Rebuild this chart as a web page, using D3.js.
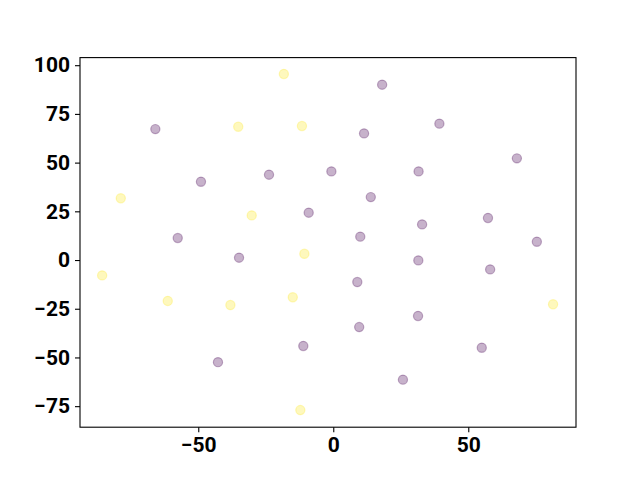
<!DOCTYPE html>
<html>
<head>
<meta charset="utf-8">
<script src="https://cdn.jsdelivr.net/npm/d3@7"></script>
<style>
  html, body { margin: 0; padding: 0; background: #fff; }
  svg { display: block; }
  .tick text { font-family: Roboto, "Liberation Sans", sans-serif; font-weight: bold; font-size: 21px; fill: #000; }
</style>
</head>
<body>
<svg id="chart" width="640" height="480"></svg>
<script>
// Class 0 (purple) points
const purpleX = [-65.9, -49.0, -23.8, -0.7, -9.1, -57.6, 18.1, 39.3, 11.4, 68.0, 31.6, 13.9, 57.3, 32.9, 10.0, 75.4, -34.9, -11.1, -42.7, 31.5, 58.1, 8.9, 31.4, 9.6, 55.0, 25.8];
const purpleY = [67.2, 40.2, 43.8, 45.5, 24.3, 11.3, 90.0, 70.0, 65.0, 52.2, 45.5, 32.3, 21.6, 18.3, 12.0, 9.4, 1.2, -44.1, -52.4, -0.2, -4.8, -11.3, -28.7, -34.4, -45.0, -61.4];
// Class 1 (yellow) points
const yellowX = [-18.3, -35.2, -11.6, -78.7, -30.2, -10.7, -85.6, -61.3, -38.1, -15.0, -12.2, 81.4];
const yellowY = [95.5, 68.4, 68.8, 31.7, 22.9, 3.2, -7.9, -21.0, -23.1, -19.1, -77.0, -22.7];

const xTicks = [-50, 0, 50];
const yTicks = [-75, -50, -25, 0, 25, 50, 75, 100];
const xDomain = [-93.8, 89.9];
const yDomain = [-85.8, 103.9];

const svg = d3.select("#chart");
const m = { left: 80, right: 576, top: 57.6, bottom: 427.2 };

const x = d3.scaleLinear().domain(xDomain).range([m.left, m.right]);
const y = d3.scaleLinear().domain(yDomain).range([m.bottom, m.top]);

const fmt = d => (d < 0 ? "\u2212" + Math.abs(d) : String(d));

const xAxis = svg.append("g")
  .attr("transform", `translate(0,${m.bottom})`)
  .call(d3.axisBottom(x).tickValues(xTicks).tickFormat(fmt).tickSize(5).tickPadding(5).tickSizeOuter(0));
xAxis.select(".domain").remove();

const yAxis = svg.append("g")
  .attr("transform", `translate(${m.left},0)`)
  .call(d3.axisLeft(y).tickValues(yTicks).tickFormat(fmt).tickSize(5).tickPadding(5).tickSizeOuter(0));
yAxis.select(".domain").remove();

svg.selectAll(".tick line").attr("stroke", "#000").attr("stroke-width", 1.1);

function drawSet(xs, ys, color) {
  const data = xs.map((v, i) => ({ x: v, y: ys[i] }));
  svg.append("g").selectAll("circle").data(data).join("circle")
    .attr("cx", d => x(d.x))
    .attr("cy", d => y(d.y))
    .attr("r", 4.6)
    .attr("fill", color)
    .attr("fill-opacity", 0.3)
    .attr("stroke", color)
    .attr("stroke-opacity", 0.3)
    .attr("stroke-width", 1.2);
}
drawSet(purpleX, purpleY, "#440154");
drawSet(yellowX, yellowY, "#fde725");

svg.append("rect")
  .attr("x", m.left).attr("y", m.top)
  .attr("width", m.right - m.left).attr("height", m.bottom - m.top)
  .attr("fill", "none").attr("stroke", "#000").attr("stroke-width", 1.1);
</script>
</body>
</html>
